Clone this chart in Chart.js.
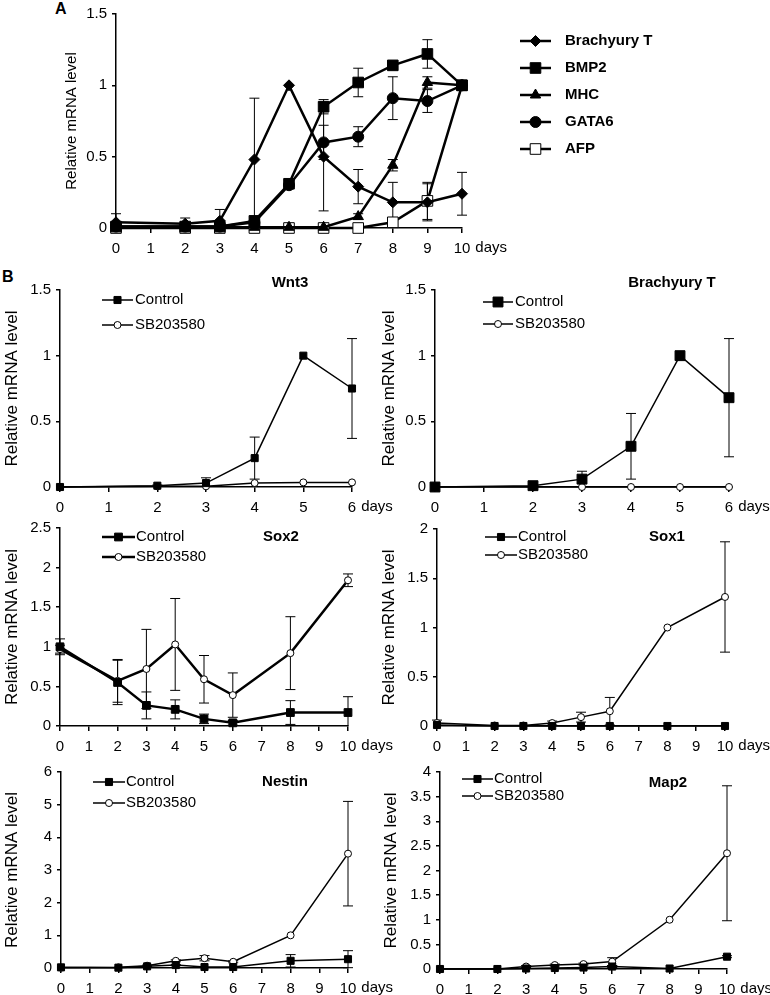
<!DOCTYPE html>
<html>
<head>
<meta charset="utf-8">
<script src="https://cdn.jsdelivr.net/npm/chart.js@4.4.1/dist/chart.umd.min.js"></script>
<style>
  body { margin: 0; background: #fff; }
  #fig { position: relative; width: 770px; height: 995px; overflow: hidden; font-family: "Liberation Sans", Arial, sans-serif; }
  #fig canvas { position: absolute; }
  .tag { position: absolute; font-weight: bold; font-size: 16px; color: #000; }
</style>
</head>
<body>
<div id="fig">
  <div class="tag" style="left:55px;top:0px">A</div>
  <div class="tag" style="left:2px;top:268px">B</div>
</div>
<script>
// ---- panel A: time course of marker genes ----
const daysA = [0, 2, 3, 4, 5, 6, 7, 8, 9, 10];
const brachyuryA = [0.04, 0.03, 0.05, 0.48, 1.0, 0.5, 0.29, 0.18, 0.18, 0.24];
const brachyuryAErr = [0.06, 0.04, 0.08, 0.43, 0, 0.38, 0.12, 0.14, 0.13, 0.15];
const bmp2A = [0.01, 0.01, 0.01, 0.05, 0.31, 0.85, 1.02, 1.14, 1.22, 1.0];
const bmp2AErr = [0, 0, 0, 0.02, 0.03, 0.05, 0.1, 0.03, 0.1, 0];
const mhcA = [0.005, 0.005, 0.005, 0.005, 0.005, 0.005, 0.08, 0.44, 1.02, 1.0];
const mhcAErr = [0, 0, 0, 0, 0, 0, 0.02, 0.04, 0.04, 0];
const gata6A = [0.01, 0.01, 0.01, 0.04, 0.3, 0.6, 0.64, 0.91, 0.89, 1.0];
const gata6AErr = [0, 0, 0, 0.01, 0.02, 0.12, 0.07, 0.15, 0.08, 0];
const afpA = [0, 0, 0, 0, 0, 0, 0, 0.04, 0.19, 1.0];
const afpAErr = [0, 0, 0, 0, 0, 0, 0, 0.01, 0.13, 0];

// ---- panel B: control vs SB203580 ----
const daysShort = [0, 2, 3, 4, 5, 6];
const wnt3Ctrl = [0, 0.01, 0.03, 0.22, 1.0, 0.75];
const wnt3CtrlErr = [0, 0.005, 0.04, 0.16, 0, 0.38];
const wnt3SB = [0, 0.005, 0.005, 0.03, 0.035, 0.035];
const btCtrl = [0, 0.01, 0.06, 0.31, 1.0, 0.68];
const btCtrlErr = [0, 0.01, 0.06, 0.25, 0, 0.45];
const btSB = [0, 0, 0, 0, 0, 0];

const daysLong = [0, 2, 3, 4, 5, 6, 8, 10];
const sox2Ctrl = [1.0, 0.55, 0.26, 0.21, 0.09, 0.04, 0.17, 0.17];
const sox2CtrlErr = [0.1, 0.28, 0.17, 0.12, 0.06, 0.03, 0.15, 0.2];
const sox2SB = [0.97, 0.57, 0.72, 1.03, 0.59, 0.39, 0.92, 1.84];
const sox2SBErr = [0.05, 0.27, 0.5, 0.58, 0.3, 0.28, 0.46, 0.08];
const sox1Ctrl = [0.01, 0, 0, 0, 0, 0, 0, 0];
const sox1SB = [0.03, 0.005, 0.005, 0.03, 0.09, 0.15, 1.0, 1.31];
const sox1SBErr = [0.03, 0, 0, 0.02, 0.05, 0.14, 0, 0.56];
const nestinCtrl = [0.02, 0.01, 0.05, 0.09, 0.03, 0.03, 0.22, 0.27];
const nestinCtrlErr = [0, 0, 0, 0.02, 0, 0, 0.19, 0.26];
const nestinSB = [0.01, 0.02, 0.07, 0.22, 0.3, 0.19, 1.0, 3.5];
const nestinSBErr = [0, 0, 0.02, 0.03, 0.08, 0.03, 0, 1.6];
const map2Ctrl = [0, 0, 0.01, 0.02, 0.03, 0.05, 0.01, 0.25];
const map2CtrlErr = [0, 0, 0, 0, 0, 0.02, 0, 0.02];
const map2SB = [0, 0, 0.05, 0.08, 0.1, 0.15, 1.0, 2.35];
const map2SBErr = [0, 0, 0.02, 0.02, 0.02, 0.08, 0, 1.37];

const FONT = '"Liberation Sans", Arial, sans-serif';
Chart.defaults.font.family = FONT;
Chart.defaults.color = '#000';

function ctrl(x, y, err, r, lw) {
  return { label: 'Control', x, y, err, style: 'rect', r: r || 5, fill: '#000', lw: lw || 1.5 };
}
function sb(x, y, err, lw) {
  return { label: 'SB203580', x, y, err, style: 'circle', r: 3.5, fill: '#fff', lw: lw || 1.5 };
}

const panels = [
  { area: [116, 14, 462, 228], xMax: 10, yMax: 1.5, yStep: 0.5, titleX: 72, tick: 15, ylab: 15, extra: 300,
    series: [
      { label: 'Brachyury T', x: daysA, y: brachyuryA, err: brachyuryAErr, style: 'rectRot', r: 5.5, fill: '#000', lw: 2.5 },
      { label: 'BMP2', x: daysA, y: bmp2A, err: bmp2AErr, style: 'rect', r: 7.5, fill: '#000', lw: 2.5 },
      { label: 'MHC', x: daysA, y: mhcA, err: mhcAErr, style: 'triangle', r: 6, fill: '#000', lw: 2.5 },
      { label: 'GATA6', x: daysA, y: gata6A, err: gata6AErr, style: 'circle', r: 5.5, fill: '#000', lw: 2.5 },
      { label: 'AFP', x: daysA, y: afpA, err: afpAErr, style: 'rect', r: 7.5, fill: '#fff', lw: 2.5 }
    ],
    legend: { x0: 520, x1: 551, tx: 565, ys: [41, 68, 95, 122, 149], font: 'bold 15px ' + FONT } },
  { area: [60, 290, 352, 487], xMax: 6, yMax: 1.5, yStep: 0.5, titleX: 12, tick: 15, ylab: 17,
    title: { text: 'Wnt3', x: 290, y: 283 },
    series: [ctrl(daysShort, wnt3Ctrl, wnt3CtrlErr, 5), sb(daysShort, wnt3SB, null)],
    legend: { x0: 102, x1: 133, tx: 135, ys: [300, 325], font: '15px ' + FONT } },
  { area: [435, 290, 729, 487], xMax: 6, yMax: 1.5, yStep: 0.5, titleX: 389, tick: 15, ylab: 17,
    title: { text: 'Brachyury T', x: 672, y: 283 },
    series: [ctrl(daysShort, btCtrl, btCtrlErr, 7), sb(daysShort, btSB, null)],
    legend: { x0: 483, x1: 513, tx: 515, ys: [302, 324], font: '15px ' + FONT } },
  { area: [60, 528, 348, 726], xMax: 10, yMax: 2.5, yStep: 0.5, titleX: 12, tick: 15, ylab: 17,
    title: { text: 'Sox2', x: 281, y: 537 },
    series: [ctrl(daysLong, sox2Ctrl, sox2CtrlErr, 5.5, 2.5), sb(daysLong, sox2SB, sox2SBErr, 2.5)],
    legend: { x0: 102, x1: 135, tx: 136, ys: [537, 557], font: '15px ' + FONT } },
  { area: [437, 529, 725, 726], xMax: 10, yMax: 2, yStep: 0.5, titleX: 389, tick: 15, ylab: 17,
    title: { text: 'Sox1', x: 667, y: 537 },
    series: [ctrl(daysLong, sox1Ctrl, null, 5), sb(daysLong, sox1SB, sox1SBErr)],
    legend: { x0: 485, x1: 517, tx: 518, ys: [537, 555], font: '15px ' + FONT } },
  { area: [61, 772, 348, 968], xMax: 10, yMax: 6, yStep: 1, titleX: 12, tick: 15, ylab: 17,
    title: { text: 'Nestin', x: 285, y: 782 },
    series: [ctrl(daysLong, nestinCtrl, nestinCtrlErr, 5), sb(daysLong, nestinSB, nestinSBErr)],
    legend: { x0: 93, x1: 125, tx: 126, ys: [782, 803], font: '15px ' + FONT } },
  { area: [440, 772, 727, 969], xMax: 10, yMax: 4, yStep: 0.5, titleX: 391, tick: 15, ylab: 17,
    title: { text: 'Map2', x: 668, y: 783 },
    series: [ctrl(daysLong, map2Ctrl, map2CtrlErr, 5), sb(daysLong, map2SB, map2SBErr)],
    legend: { x0: 462, x1: 493, tx: 494, ys: [779, 796], font: '15px ' + FONT } }
];

function drawMark(ctx, style, x, y, r, fill) {
  ctx.save();
  ctx.fillStyle = fill;
  ctx.strokeStyle = '#000';
  ctx.lineWidth = 1;
  ctx.beginPath();
  if (style === 'circle') {
    ctx.arc(x, y, r, 0, Math.PI * 2);
  } else if (style === 'rect') {
    const s = r * Math.SQRT1_2;
    ctx.rect(x - s, y - s, 2 * s, 2 * s);
  } else if (style === 'rectRot') {
    ctx.moveTo(x - r, y); ctx.lineTo(x, y - r); ctx.lineTo(x + r, y); ctx.lineTo(x, y + r);
    ctx.closePath();
  } else if (style === 'triangle') {
    ctx.moveTo(x, y - r); ctx.lineTo(x + 0.866 * r, y + 0.5 * r); ctx.lineTo(x - 0.866 * r, y + 0.5 * r);
    ctx.closePath();
  }
  ctx.fill();
  ctx.stroke();
  ctx.restore();
}

// error bars, drawn under the markers
const errorBars = {
  id: 'errorBars',
  beforeDatasetsDraw(chart) {
    const ctx = chart.ctx, ys = chart.scales.y;
    ctx.save();
    ctx.strokeStyle = '#000';
    ctx.lineWidth = 1;
    chart.data.datasets.forEach((ds, i) => {
      if (!ds.err) return;
      chart.getDatasetMeta(i).data.forEach((pt, j) => {
        const e = ds.err[j];
        if (!e) return;
        const v = ds.data[j].y;
        const top = ys.getPixelForValue(v + e);
        const bot = ys.getPixelForValue(Math.max(v - e, 0));
        ctx.beginPath();
        ctx.moveTo(pt.x, top); ctx.lineTo(pt.x, bot);
        ctx.moveTo(pt.x - 5, top); ctx.lineTo(pt.x + 5, top);
        if (v - e > 0) { ctx.moveTo(pt.x - 5, bot); ctx.lineTo(pt.x + 5, bot); }
        ctx.stroke();
      });
    });
    ctx.restore();
  }
};

// title, legend and the "days" unit next to the last tick
function decor(p, cx, cy) {
  return {
    id: 'decor',
    afterDraw(chart) {
      const ctx = chart.ctx, xs = chart.scales.x;
      ctx.save();
      ctx.fillStyle = '#000';
      ctx.textBaseline = 'top';
      ctx.font = p.tick + 'px ' + FONT;
      const last = String(p.xMax);
      const dx = xs.getPixelForValue(p.xMax) + ctx.measureText(last).width / 2 + 5;
      ctx.textAlign = 'left';
      ctx.fillText('days', dx, xs.top + 12);
      ctx.textBaseline = 'middle';
      if (p.title) {
        ctx.font = 'bold 15px ' + FONT;
        ctx.textAlign = 'center';
        ctx.fillText(p.title.text, p.title.x - cx, p.title.y - cy);
      }
      const lg = p.legend;
      p.series.forEach((s, i) => {
        const y = lg.ys[i] - cy;
        ctx.strokeStyle = '#000';
        ctx.lineWidth = s.lw;
        ctx.beginPath();
        ctx.moveTo(lg.x0 - cx, y); ctx.lineTo(lg.x1 - cx, y);
        ctx.stroke();
        drawMark(ctx, s.style, (lg.x0 + lg.x1) / 2 - cx, y, s.r, s.fill);
        ctx.fillStyle = '#000';
        ctx.font = lg.font;
        ctx.textAlign = 'left';
        ctx.fillText(s.label, lg.tx - cx, y);
      });
      ctx.restore();
    }
  };
}

const fig = document.getElementById('fig');

panels.forEach(p => {
  const [left, top, right, bottom] = p.area;
  const cx = p.titleX - Math.round(p.ylab * 0.6);
  const cy = top - 14;
  const cw = right + 60 + (p.extra || 0) - cx;
  const ch = bottom + 32 - cy;
  const cv = document.createElement('canvas');
  cv.width = cw; cv.height = ch;
  cv.style.left = cx + 'px'; cv.style.top = cy + 'px';
  cv.style.width = cw + 'px'; cv.style.height = ch + 'px';
  fig.appendChild(cv);

  new Chart(cv, {
    type: 'line',
    data: {
      datasets: p.series.map(s => ({
        label: s.label,
        data: s.x.map((d, i) => ({ x: d, y: s.y[i] })),
        err: s.err,
        borderColor: '#000',
        borderWidth: s.lw,
        pointStyle: s.style,
        pointRadius: s.r,
        pointBackgroundColor: s.fill,
        pointBorderColor: '#000',
        pointBorderWidth: 1,
        tension: 0,
        clip: false
      }))
    },
    options: {
      responsive: false,
      animation: false,
      devicePixelRatio: 1,
      layout: { padding: { left: 0, top: top - cy, right: cx + cw - right, bottom: 0 } },
      plugins: { legend: { display: false }, tooltip: { enabled: false } },
      scales: {
        x: {
          type: 'linear', min: 0, max: p.xMax,
          afterFit: sc => { sc.height = cy + ch - bottom; },
          ticks: { stepSize: 1, autoSkip: false, maxRotation: 0, padding: 7, font: { size: p.tick } },
          grid: { drawOnChartArea: false, tickLength: 5, color: '#000', lineWidth: 1.5 },
          border: { color: '#000', width: 1.5 }
        },
        y: {
          min: 0, max: p.yMax,
          afterFit: sc => { sc.width = left - cx; },
          ticks: { stepSize: p.yStep, padding: 5, font: { size: p.tick }, callback: v => String(+v.toFixed(2)) },
          grid: { drawOnChartArea: false, tickLength: 4, color: '#000', lineWidth: 1.5 },
          border: { color: '#000', width: 1.5 },
          title: { display: true, text: 'Relative mRNA level', padding: 0, font: { size: p.ylab } }
        }
      }
    },
    plugins: [errorBars, decor(p, cx, cy)]
  });
});
</script>
</body>
</html>
